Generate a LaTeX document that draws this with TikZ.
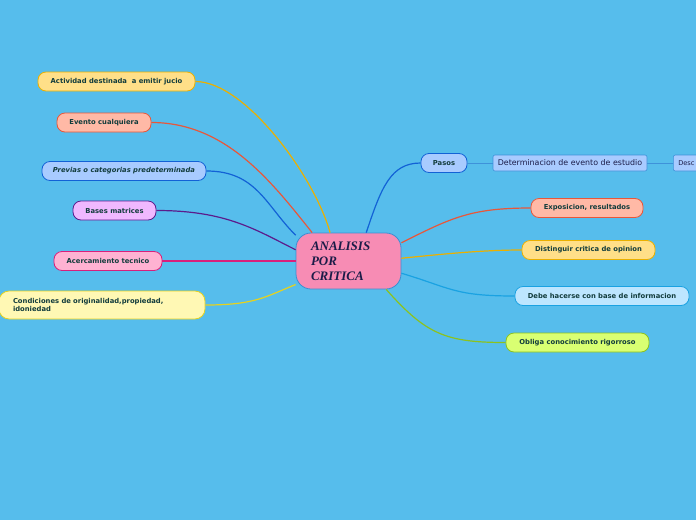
\documentclass[tikz,border=0pt]{standalone}
\usepackage{fontspec}
\newfontfamily\mapfont{DejaVu Sans}
\newfontfamily\titlefont{Liberation Serif}
\usepackage{tikz}
\definecolor{bgSky}{HTML}{56BDEC}
\definecolor{txtDark}{HTML}{123C3C}
\definecolor{txtNavy}{HTML}{1C1C48}
\definecolor{goldLine}{HTML}{EBB000}
\definecolor{goldFill}{HTML}{FFDF88}
\definecolor{redLine}{HTML}{E8573A}
\definecolor{redFill}{HTML}{FFB9A6}
\definecolor{blueLine}{HTML}{1262D6}
\definecolor{blueFill}{HTML}{A8CBFF}
\definecolor{purpleLine}{HTML}{5B1C8C}
\definecolor{purpleFill}{HTML}{F0B8FF}
\definecolor{pinkLine}{HTML}{D8207C}
\definecolor{pinkFill}{HTML}{FFB2D2}
\definecolor{yellowLine}{HTML}{E6D21E}
\definecolor{yellowFill}{HTML}{FFF8B4}
\definecolor{cyanLine}{HTML}{1AA2E2}
\definecolor{cyanFill}{HTML}{BDE6FF}
\definecolor{greenLine}{HTML}{8CC21E}
\definecolor{greenFill}{HTML}{D9FF72}
\definecolor{centerFill}{HTML}{F78CB4}
\definecolor{centerLine}{HTML}{3C8ED2}
\definecolor{subLine}{HTML}{3E92DA}

\begin{document}
\begin{tikzpicture}[x=1pt, y=-1pt,
    leaf/.style={draw, rounded corners=8pt, line width=0.8pt, text=txtDark,
        font=\mapfont\fontsize{6.8}{8.4}\selectfont\bfseries,
        minimum height=19pt, inner sep=2pt},
    sub/.style={draw=subLine, fill=blueFill, rounded corners=2pt, line width=0.6pt,
        text=txtNavy, font=\mapfont\fontsize{7.9}{9}\selectfont,
        minimum height=16pt, inner sep=2pt},
    branch/.style={line width=1.2pt}]

    % background
    \fill[bgSky] (0,0) rectangle (696,520);
    \useasboundingbox (0,0) rectangle (696,520);
    \clip (0,0) rectangle (696,520);

    % central topic
    \node[draw=centerLine, fill=centerFill, line width=0.8pt, rounded corners=15pt,
        minimum width=105pt, minimum height=56pt, text width=75pt, align=left,
        inner sep=0pt, text=txtNavy,
        font=\titlefont\fontsize{13}{15}\selectfont\bfseries\itshape]
        (c) at (348.5,261) {ANALISIS\\POR\\CRITICA};

    % left branches
    \node[leaf, draw=goldLine, fill=goldFill, minimum width=157pt] (act) at (116.5,81.5)
        {Actividad destinada \ a emitir jucio};
    \node[leaf, draw=redLine, fill=redFill, minimum width=94pt] (ev) at (104,122.5)
        {Evento cualquiera};
    \node[leaf, draw=blueLine, fill=blueFill, minimum width=164pt,
        font=\mapfont\fontsize{6.8}{8.4}\selectfont\bfseries\itshape] (pr) at (124,171)
        {Previas o categorias predeterminada};
    \node[leaf, draw=purpleLine, fill=purpleFill, minimum width=83pt] (ba) at (114.5,210.5)
        {Bases matrices};
    \node[leaf, draw=pinkLine, fill=pinkFill, minimum width=108pt] (ac) at (108,261)
        {Acercamiento tecnico};
    \node[leaf, draw=yellowLine, fill=yellowFill, minimum width=206pt, minimum height=28pt,
        rounded corners=10pt, text width=178pt, align=left] (co) at (102,305)
        {Condiciones de originalidad,propiedad,\\idoniedad};

    \draw[branch, goldLine] (act.east) .. controls +(50,0) and +(-15,-55) .. (c.123);
    \draw[branch, redLine] (ev.east) .. controls +(75,0) and +(-40,-50) .. (c.142);
    \draw[branch, blueLine] (pr.east) .. controls +(50,0) and +(-30,-30) .. (c.154);
    \draw[branch, purpleLine] (ba.east) .. controls +(70,0) and +(-40,-20) .. (c.168);
    \draw[branch, pinkLine] (ac.east) -- (c.west);
    \draw[branch, yellowLine] (co.east) .. controls +(50,0) and +(-30,12) .. (c.204);

    % right branches
    \node[leaf, draw=blueLine, fill=blueFill, minimum width=46pt] (pa) at (444,163)
        {Pasos};
    \node[sub, minimum width=154pt] (det) at (570,163)
        {Determinacion de evento de estudio};
    \node[sub, anchor=west, minimum width=60pt, text width=50pt, align=left,
        font=\mapfont\fontsize{6.6}{8}\selectfont] (desc) at (673,163) {Desc};
    \node[leaf, draw=redLine, fill=redFill, minimum width=112pt] (ex) at (587,208)
        {Exposicion, resultados};
    \node[leaf, draw=goldLine, fill=goldFill, minimum width=133pt] (di) at (588.5,250)
        {Distinguir critica de opinion};
    \node[leaf, draw=cyanLine, fill=cyanFill, minimum width=174pt] (de) at (602,296)
        {Debe hacerse con base de informacion};
    \node[leaf, draw=greenLine, fill=greenFill, minimum width=143pt] (ob) at (577.5,342.5)
        {Obliga conocimiento rigorroso};

    \draw[branch, blueLine] (c.58) .. controls +(15,-45) and +(-30,0) .. (pa.west);
    \draw[line width=0.6pt, subLine] (pa.east) -- (det.west);
    \draw[line width=0.6pt, subLine] (det.east) -- (desc.west);
    \draw[branch, redLine] (c.19) .. controls +(50,-25) and +(-60,0) .. (ex.west);
    \draw[branch, goldLine] (c.3) .. controls +(40,-4) and +(-40,0) .. (di.west);
    \draw[branch, cyanLine] (c.347) .. controls +(50,15) and +(-60,0) .. (de.west);
    \draw[branch, greenLine] (c.323) .. controls +(40,45) and +(-60,0) .. (ob.west);

\end{tikzpicture}
\end{document}
